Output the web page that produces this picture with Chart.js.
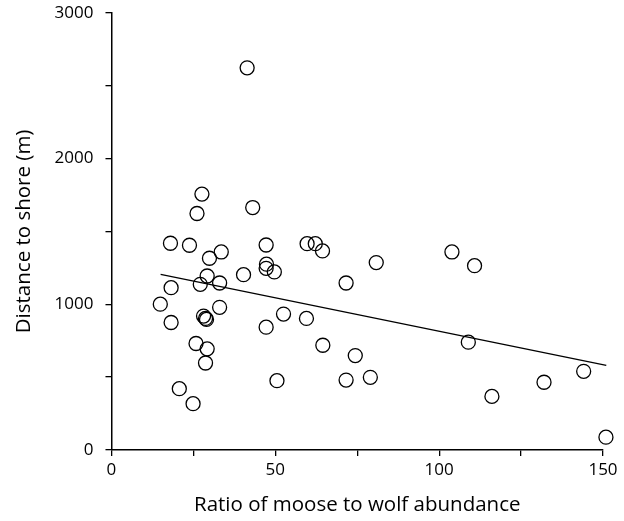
<!DOCTYPE html>
<html>
<head>
<meta charset="utf-8">
<script src="https://cdn.jsdelivr.net/npm/chart.js@4/dist/chart.umd.min.js"></script>
<style>
html,body{margin:0;padding:0;background:#fff;}
#wrap{width:624px;height:521px;position:relative;}
</style>
</head>
<body>
<div id="wrap"><canvas id="chart"></canvas></div>
<script>
// moose:wolf ratio vs distance to shore
var ratio = [41.4,27.6,26.1,43.1,18.0,23.8,29.9,33.5,47.2,47.3,47.2,49.7,40.3,59.7,62.2,64.4,
	71.6,29.2,27.1,33.0,18.2,14.9,33.0,28.1,28.7,29.0,18.2,52.5,59.5,47.2,25.8,29.2,
	28.7,64.5,20.7,24.9,50.5,71.6,74.4,80.8,103.9,110.8,108.9,79.0,116.1,132.0,144.1,150.9];
var distance = [2623,1756,1623,1664,1419,1405,1316,1359,1407,1275,1247,1222,1203,1416,1416,1366,
	1146,1194,1137,1146,1114,1001,979,919,903,896,875,933,903,843,731,694,
	597,719,421,318,476,480,648,1286,1359,1265,740,499,368,465,540,88];
var fitX = [15, 151];
var fitY = [1206, 581];
var xTickLabels = [0, 50, 100, 150];
var yTickLabels = [0, 1000, 2000, 3000];

var pts = ratio.map(function(v, i) { return {x: v, y: distance[i]}; });
var fit = fitX.map(function(v, i) { return {x: v, y: fitY[i]}; });

var font = "'Open Sans', 'Noto Sans', sans-serif";

new Chart(document.getElementById('chart'), {
	type: 'scatter',
	data: {
		datasets: [
			{label: 'fit', type: 'line', data: fit, borderColor: '#000', borderWidth: 1.3,
				pointRadius: 0, fill: false, showLine: true, clip: false, order: 2},
			{label: 'sites', data: pts, backgroundColor: 'rgba(255,255,255,0)', borderColor: '#000',
				borderWidth: 1.3, pointRadius: 7, pointHoverRadius: 7, clip: false, order: 1}
		]
	},
	options: {
		responsive: true,
		maintainAspectRatio: false,
		animation: false,
		events: [],
		layout: {padding: {left: 8, right: 21, top: 0, bottom: 0}},
		plugins: {legend: {display: false}, tooltip: {enabled: false}},
		scales: {
			x: {
				type: 'linear', min: 0, max: 150,
				ticks: {stepSize: 25, color: '#000', font: {family: font, size: 17}, maxRotation: 0,
					autoSkip: false, padding: 4,
					callback: function(v) { return xTickLabels.indexOf(v) >= 0 ? v : ''; }},
				grid: {drawOnChartArea: false, color: '#000', tickLength: 6, lineWidth: 1.3},
				border: {color: '#000', width: 1.5},
				title: {display: true, text: 'Ratio of moose to wolf abundance', color: '#000',
					font: {family: font, size: 20.5}, padding: {top: 8, bottom: 4}}
			},
			y: {
				type: 'linear', min: 0, max: 3000,
				// small lineHeight so the top label does not push the plot down
				ticks: {stepSize: 500, color: '#000', font: {family: font, size: 17, lineHeight: 0.1}, padding: 12,
					autoSkip: false,
					callback: function(v) { return yTickLabels.indexOf(v) >= 0 ? v : ''; }},
				grid: {drawOnChartArea: false, color: '#000', tickLength: 6, lineWidth: 1.3},
				border: {color: '#000', width: 1.5},
				title: {display: true, text: 'Distance to shore (m)', color: '#000',
					font: {family: font, size: 20.5}, padding: {bottom: 6}}
			}
		}
	}
});
</script>
</body>
</html>
